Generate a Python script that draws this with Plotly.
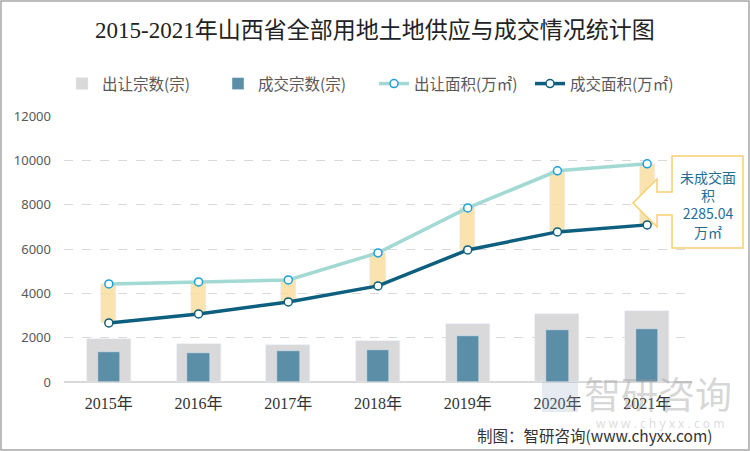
import plotly.graph_objects as go

years = ["2015年", "2016年", "2017年", "2018年", "2019年", "2020年", "2021年"]
supply_count = [1941, 1715, 1670, 1837, 2632, 3056, 3192]
deal_count = [1341, 1296, 1386, 1458, 2090, 2348, 2406]
supply_area = [4424, 4515, 4605, 5824, 7855, 9526, 9842]
deal_area = [2664, 3070, 3612, 4334, 5959, 6772, 7088]
y_ticks = [0, 2000, 4000, 6000, 8000, 10000, 12000]

# plot area in pixels
L, R, T, B = 64, 692, 116, 382
W, H = R - L, B - T

def pp(x, y):
    return (x - L) / W, (B - y) / H

gap = [s - d for s, d in zip(supply_area, deal_area)]

fig = go.Figure()
fig.add_trace(go.Bar(x=years, y=supply_count, name="出让宗数(宗)", marker_color="#D9D9D9",
                     width=0.49))
fig.add_trace(go.Bar(x=years, y=deal_count, name="成交宗数(宗)", marker_color="#5B8FA8",
                     width=0.25))
fig.add_trace(go.Bar(x=years, y=gap, base=deal_area, marker_color="rgba(249,222,160,0.85)",
                     width=0.17, showlegend=False, hoverinfo="skip"))
fig.add_trace(go.Scatter(x=years, y=supply_area, name="出让面积(万㎡)", mode="lines+markers",
                         line=dict(color="#A2D9D3", width=3.5),
                         marker=dict(size=8, color="white", line=dict(color="#1BA1D9", width=1.5))))
fig.add_trace(go.Scatter(x=years, y=deal_area, name="成交面积(万㎡)", mode="lines+markers",
                         line=dict(color="#0D5F7F", width=3.5),
                         marker=dict(size=8, color="white", line=dict(color="#0D5F7F", width=1.5))))

pts = [(672, 156), (743, 156), (743, 248), (672, 248), (672, 215), (657, 215), (657, 227),
       (633, 203), (657, 179), (657, 192), (672, 192)]
path = ""
for i, (x, y) in enumerate(pts):
    px_, py_ = pp(x, y)
    path += ("M" if i == 0 else "L") + f"{px_:.4f},{py_:.4f} "
path += "Z"

x0, y0 = pp(1, 450)
x1, y1 = pp(749, 1)
lx0, ly0 = pp(542, 382)
lx1, ly1 = pp(578, 412)
shapes = [
    dict(type="rect", xref="paper", yref="paper", x0=x0, y0=y0, x1=x1, y1=y1,
         line=dict(color="#A6A6A6", width=1.5), fillcolor="rgba(0,0,0,0)", layer="below"),
    dict(type="rect", xref="paper", yref="paper", x0=lx0, y0=ly0, x1=lx1, y1=ly1,
         line=dict(width=0), fillcolor="rgba(150,175,200,0.25)", layer="above"),
    dict(type="path", xref="paper", yref="paper", path=path,
         line=dict(color="#F7CF6E", width=1.5), fillcolor="white", layer="above"),
]

ax, ay = pp(707.5, 204)
sx, sy = pp(715, 435)
wx, wy = pp(658, 393)
wx2, wy2 = pp(660, 423)
tx, ty = pp(375, 30)
annotations = [
    dict(text="智研咨询", x=wx, y=wy, xref="paper", yref="paper", showarrow=False,
         xanchor="center", yanchor="middle",
         font=dict(size=37, color="rgba(150,150,150,0.4)", family="Noto Sans CJK SC")),
    dict(text="w w w . c h y x x . c o m", x=wx2, y=wy2, xref="paper", yref="paper", showarrow=False,
         xanchor="center", yanchor="middle",
         font=dict(size=12, color="rgba(150,150,150,0.35)", family="Noto Sans")),
    dict(text="未成交面<br>积<br>2285.04<br>万㎡", x=ax, y=ay, xref="paper", yref="paper",
         xanchor="center", yanchor="middle",
         showarrow=False, font=dict(size=14, color="#1F6E96", family="Noto Sans CJK SC"),
         align="center"),
    dict(text="制图：智研咨询(www.chyxx.com)", x=sx, y=sy, xref="paper", yref="paper",
         xanchor="right", yanchor="middle", showarrow=False,
         font=dict(size=15.5, color="#333333", family="Noto Sans CJK SC")),
    dict(text="2015-2021年山西省全部用地土地供应与成交情况统计图", x=tx, y=ty, xref="paper",
         yref="paper", showarrow=False, xanchor="center", yanchor="middle",
         font=dict(size=23, color="#222222", family="Liberation Serif, Noto Sans CJK SC")),
]

fig.update_layout(
    width=750, height=451,
    margin=dict(l=L, r=750 - R, t=T, b=451 - B, autoexpand=False),
    paper_bgcolor="white", plot_bgcolor="white",
    barmode="overlay", bargap=0,
    shapes=shapes, annotations=annotations,
    legend=dict(orientation="h", x=62 / 750, y=1 - 84 / 451, xref="container", yref="container",
                xanchor="left", yanchor="middle", entrywidth=111,
                font=dict(size=15.5, color="#595959", family="Noto Sans CJK SC"),
                traceorder="normal"),
    xaxis=dict(showgrid=False, tickfont=dict(size=16, color="#333333",
               family="Liberation Serif, Noto Sans CJK SC"), ticks="", showline=False,
               ticklabelstandoff=10),
    yaxis=dict(range=[0, 12000], tickvals=y_ticks, ticktext=[str(v) for v in y_ticks],
               showgrid=True, gridcolor="#D9D9D9", griddash="dash", gridwidth=1,
               zeroline=True, zerolinecolor="#D9D9D9", zerolinewidth=2,
               tickfont=dict(size=13, color="#595959", family="Noto Sans"), ticks="",
               ticklabelstandoff=12),
)

fig.write_html("out.html", config={"displayModeBar": False},
               post_script="document.body.style.margin='0';")
